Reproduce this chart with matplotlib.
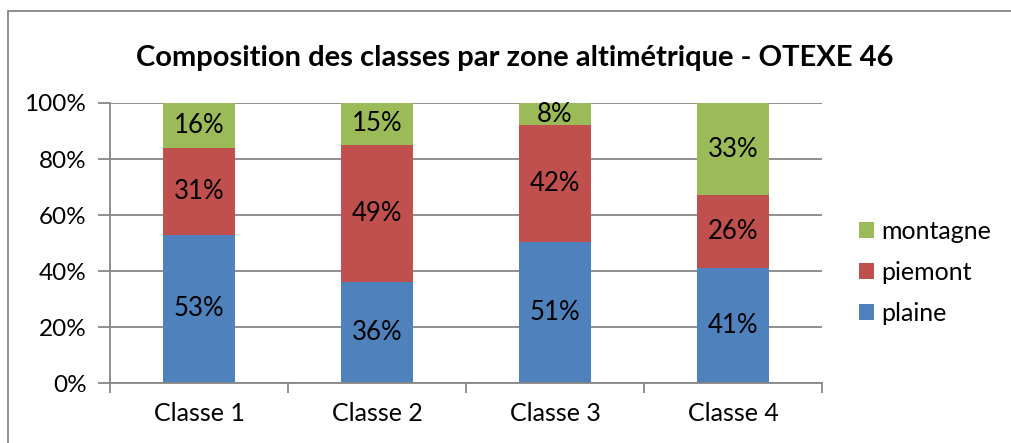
import numpy as np
import matplotlib.pyplot as plt
from matplotlib.patches import Rectangle

plt.rcParams['font.family'] = ['Lato', 'DejaVu Sans']

classes = ['Classe 1', 'Classe 2', 'Classe 3', 'Classe 4']
plaine = [53, 36, 51, 41]
piemont = [31, 49, 42, 26]
montagne = [16, 15, 8, 33]

series = [('plaine', plaine, '#4F81BD'),
          ('piemont', piemont, '#C0504D'),
          ('montagne', montagne, '#9BBB59')]

totals = np.array(plaine) + np.array(piemont) + np.array(montagne)

fig = plt.figure(figsize=(10.11, 4.43), dpi=100)
ax = fig.add_axes([0.1088, 0.1354, 0.7042, 0.6321])

# cadre du graphique (bord droit et bas hors image)
fig.patches.append(Rectangle((8 / 1011, -0.1), 1.2, (443 - 11) / 443 + 0.1,
                             transform=fig.transFigure, fill=False,
                             edgecolor='#868686', linewidth=1.3))

x = np.arange(len(classes))
bottom = np.zeros(len(classes))
handles = []
for name, vals, color in series:
    share = np.array(vals) / totals * 100
    bars = ax.bar(x, share, 0.40, bottom=bottom, color=color, label=name, zorder=3)
    for xi, b, s, v in zip(x, bottom, share, vals):
        ax.text(xi, b + s / 2, f'{v}%', ha='center', va='center', fontsize=18.5, zorder=4)
    bottom += share
    handles.append(bars)

ax.set_xlim(-0.5, len(classes) - 0.5)
ax.set_ylim(0, 100)
ax.set_yticks(np.arange(0, 101, 20))
ax.set_yticklabels([f'{v}%' for v in range(0, 101, 20)], fontsize=17.5)
ax.set_xticks(x)
ax.set_xticklabels(classes, fontsize=18)
ax.set_xticks(np.arange(-0.5, len(classes)), minor=True)
ax.tick_params(axis='x', which='major', length=0, pad=14)
ax.tick_params(axis='x', which='minor', length=7, color='#868686', width=1.3)
ax.tick_params(axis='y', length=9, color='#868686', width=1.3, pad=8)
ax.yaxis.grid(True, color='#868686', linewidth=1.3, zorder=0)
for s in ['top', 'right']:
    ax.spines[s].set_visible(False)
for s in ['left', 'bottom']:
    ax.spines[s].set_color('#868686')
    ax.spines[s].set_linewidth(1.3)
    ax.spines[s].set_zorder(5)

fig.text(0.509, 0.87, 'Composition des classes par zone altimétrique - OTEXE 46',
         ha='center', va='center', fontsize=21, fontweight='bold')

leg = ax.legend(handles[::-1], [s[0] for s in series][::-1],
                loc='center left', bbox_to_anchor=(1.02, 0.396), frameon=False,
                fontsize=18, handlelength=0.6, handleheight=0.6,
                handletextpad=0.3, labelspacing=0.72)

fig.savefig('out.png', dpi=100)
